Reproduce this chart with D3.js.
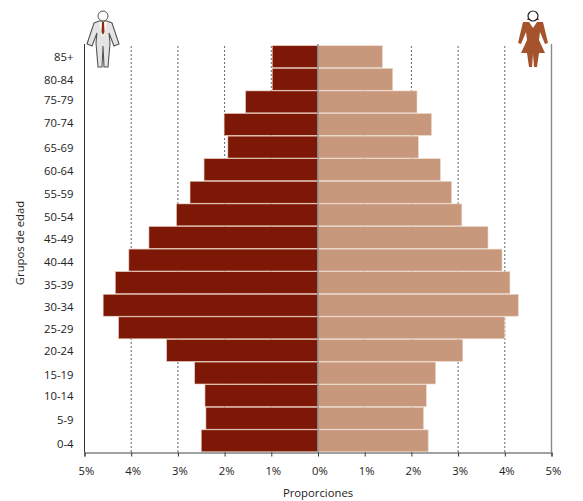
<!DOCTYPE html>
<html>
<head>
<meta charset="utf-8">
<title>Piramide de poblacion</title>
<script src="https://d3js.org/d3.v7.min.js"></script>
<style>
  html, body { margin: 0; background: #fff; }
  svg { display: block; }
  text { font-family: "Open Sans", "Noto Sans", sans-serif; font-size: 11.3px; fill: #222; }
</style>
</head>
<body>
<svg id="chart" width="583" height="501"></svg>
<script>
// grupos de edad, de arriba a abajo
const ageGroups = ["85+","80-84","75-79","70-74","65-69","60-64","55-59","50-54","45-49","40-44","35-39","30-34","25-29","20-24","15-19","10-14","5-9","0-4"];
const men = [0.98,0.98,1.55,2.01,1.93,2.44,2.74,3.03,3.62,4.05,4.34,4.60,4.27,3.24,2.64,2.42,2.40,2.50];
const women = [1.38,1.60,2.12,2.43,2.15,2.62,2.86,3.08,3.64,3.94,4.11,4.29,4.00,3.10,2.52,2.32,2.26,2.36];
const xTicks = [-5,-4,-3,-2,-1,0,1,2,3,4,5];
// las etiquetas del original no estan centradas en las barras
const labelNudge = [0.5,0.5,-2,-1.5,1,1.5,2,2,1.5,1.5,2.5,1.5,1,0.5,2.5,0.5,1.5,3.5];

const svg = d3.select("#chart");

const x = d3.scaleLinear().domain([-5, 5]).range([84.5, 551.5]);
const y = d3.scaleBand().domain(ageGroups).range([45.5, 452]).paddingInner(0.03).paddingOuter(0.01);
const plotTop = 46, plotBottom = 452.5;

// lineas punteadas
svg.append("g").selectAll("line")
  .data(xTicks.filter(d => d !== 0 && Math.abs(d) !== 5))
  .join("line")
    .attr("x1", d => x(d)).attr("x2", d => x(d))
    .attr("y1", plotTop).attr("y2", plotBottom)
    .attr("stroke", "#555").attr("stroke-width", 0.9).attr("stroke-dasharray", "2,2");

// barras, con un borde palido como en el original
svg.append("g").selectAll("rect")
  .data(men)
  .join("rect")
    .attr("x", d => x(-d))
    .attr("y", (d, i) => y(ageGroups[i]))
    .attr("width", d => x(0) - x(-d))
    .attr("height", y.bandwidth())
    .attr("fill", "#7d1806")
    .attr("stroke", "#e6c9b8").attr("stroke-width", 0.6);

svg.append("g").selectAll("rect")
  .data(women)
  .join("rect")
    .attr("x", x(0))
    .attr("y", (d, i) => y(ageGroups[i]))
    .attr("width", d => x(d) - x(0))
    .attr("height", y.bandwidth())
    .attr("fill", "#c8987c")
    .attr("stroke", "#ecd9cc").attr("stroke-width", 0.6);

// eje x
const xAxis = d3.axisBottom(x)
  .tickValues(xTicks)
  .tickFormat(d => Math.abs(d) + "%")
  .tickSize(4)
  .tickPadding(9);
const gx = svg.append("g").attr("transform", `translate(0,${plotBottom})`).call(xAxis);
gx.select(".domain").attr("stroke", "#444").attr("stroke-width", 1.1);
gx.selectAll(".tick line").attr("stroke", "#333");
gx.selectAll("text").attr("dx", 1.5).attr("dy", "0.85em")
  .style("font-size", "11.3px").style("font-family", '"Open Sans", sans-serif');

// ejes verticales
svg.append("g").selectAll("line")
  .data([-5, 0, 5])
  .join("line")
    .attr("x1", d => x(d)).attr("x2", d => x(d))
    .attr("y1", plotTop - 2).attr("y2", plotBottom)
    .attr("stroke", d => d === -5 ? "#333" : "#8a8a8a")
    .attr("stroke-width", d => d === -5 ? 1 : 1.4);

// etiquetas de edad
svg.append("g").selectAll("text")
  .data(ageGroups)
  .join("text")
    .attr("x", 73.5)
    .attr("y", (d, i) => y(d) + y.bandwidth() / 2 + labelNudge[i])
    .attr("dy", "0.35em")
    .attr("text-anchor", "end")
    .text(d => d);

svg.append("text")
  .attr("x", x(0)).attr("y", 497)
  .attr("text-anchor", "middle")
  .text("Proporciones");

svg.append("text")
  .attr("transform", "translate(24,243) rotate(-90)")
  .attr("text-anchor", "middle")
  .text("Grupos de edad");

// iconos
const man = svg.append("g").attr("transform", "translate(103,0)");
man.append("path")
  .attr("d", "M-9,23 L-4,21 L4,21 L9,23 L16,44 L11,46 L6,33 L7,43 L5,67 L1,67 L0,46 L-1,67 L-5,67 L-7,43 L-6,33 L-11,46 L-16,44 Z")
  .attr("fill", "#e4e4e4").attr("stroke", "#555").attr("stroke-width", 1.1);
man.append("path").attr("d", "M-4,22 L4,22 L1,36 L-1,36 Z").attr("fill", "#fff");
man.append("circle").attr("cy", 16).attr("r", 5).attr("fill", "#fff").attr("stroke", "#555").attr("stroke-width", 1);
man.append("path").attr("d", "M-1,22 L1,22 L1.5,32 L0,35 L-1.5,32 Z").attr("fill", "#8f2a14");

const woman = svg.append("g").attr("transform", "translate(533,0)");
woman.append("path")
  .attr("d", "M-10,22 L-4,22 L0,28 L4,22 L10,22 L15,43 L12,44 L7,32 L6,40 L12,53 L6,53 L4,67 L1,67 L0,54 L-1,67 L-4,67 L-6,53 L-12,53 L-6,40 L-7,32 L-12,44 L-15,43 Z")
  .attr("fill", "#a5532c");
woman.append("path").attr("d", "M-6,20 L-4,16 L-4,20 Z M6,20 L4,16 L4,20 Z").attr("fill", "#8f2a14");
woman.append("circle").attr("cy", 16).attr("r", 5).attr("fill", "#fff").attr("stroke", "#222").attr("stroke-width", 1.2);
</script>
</body>
</html>
